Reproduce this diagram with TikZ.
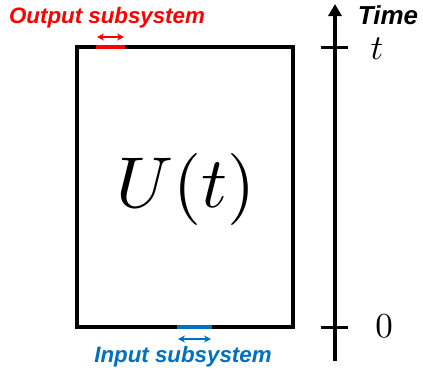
\documentclass[tikz,border=0pt]{standalone}
\usepackage{fontspec}
\setsansfont{Liberation Sans}
\usetikzlibrary{arrows.meta,positioning,calc}
\definecolor{OutRed}{RGB}{255,0,0}
\definecolor{InBlue}{RGB}{0,112,192}

\begin{document}
\begin{tikzpicture}[x=1pt,y=-1pt,>={Stealth[length=7pt,width=7pt]},
  tag/.style={font=\fontsize{22.3}{25}\sffamily\bfseries\itshape},
  tickmark/.style={line width=3pt}]
  \useasboundingbox (0,0) rectangle (423,376);
  % system box
  \coordinate (nw) at (77,47);
  \coordinate (se) at (293,327);
  \draw[line width=3.2pt] (nw) rectangle (se);
  \node[scale=7.2,transform shape] (U) at (186,189) {$U(t)$};
  % output subsystem
  \coordinate (o1) at (96,47);
  \coordinate (o2) at (125,47);
  \draw[OutRed,line width=4pt] (o1)--(o2);
  \draw[<->,OutRed,line width=1.6pt] ($(o1)+(1,-10)$)--($(o2)+(-1,-10)$);
  \node[tag,OutRed] (out) at (107,18) {Output subsystem};
  % input subsystem
  \coordinate (i1) at (177,327);
  \coordinate (i2) at (212,327);
  \draw[InBlue,line width=4pt] (i1)--(i2);
  \draw[<->,InBlue,line width=1.6pt] ($(i1)+(1,12)$)--($(i2)+(-1,12)$);
  \node[tag,InBlue] (in) at (183,357) {Input subsystem};
  % time axis
  \coordinate (t0) at (335,361);
  \coordinate (t1) at (335,4);
  \draw[->,line width=3.6pt,>={Triangle[length=12pt,width=13pt]}] (t0)--(t1);
  \draw[tickmark] (321,47)--(348,47) (321,327)--(348,327);
  \node[scale=3.5,transform shape] (lt) at (377,49) {$t$};
  \node[scale=3.5,transform shape] (lz) at (384,326) {$0$};
  \node[font=\fontsize{26}{29}\sffamily\bfseries\itshape] (time) at (388,15) {Time};
\end{tikzpicture}
\end{document}
